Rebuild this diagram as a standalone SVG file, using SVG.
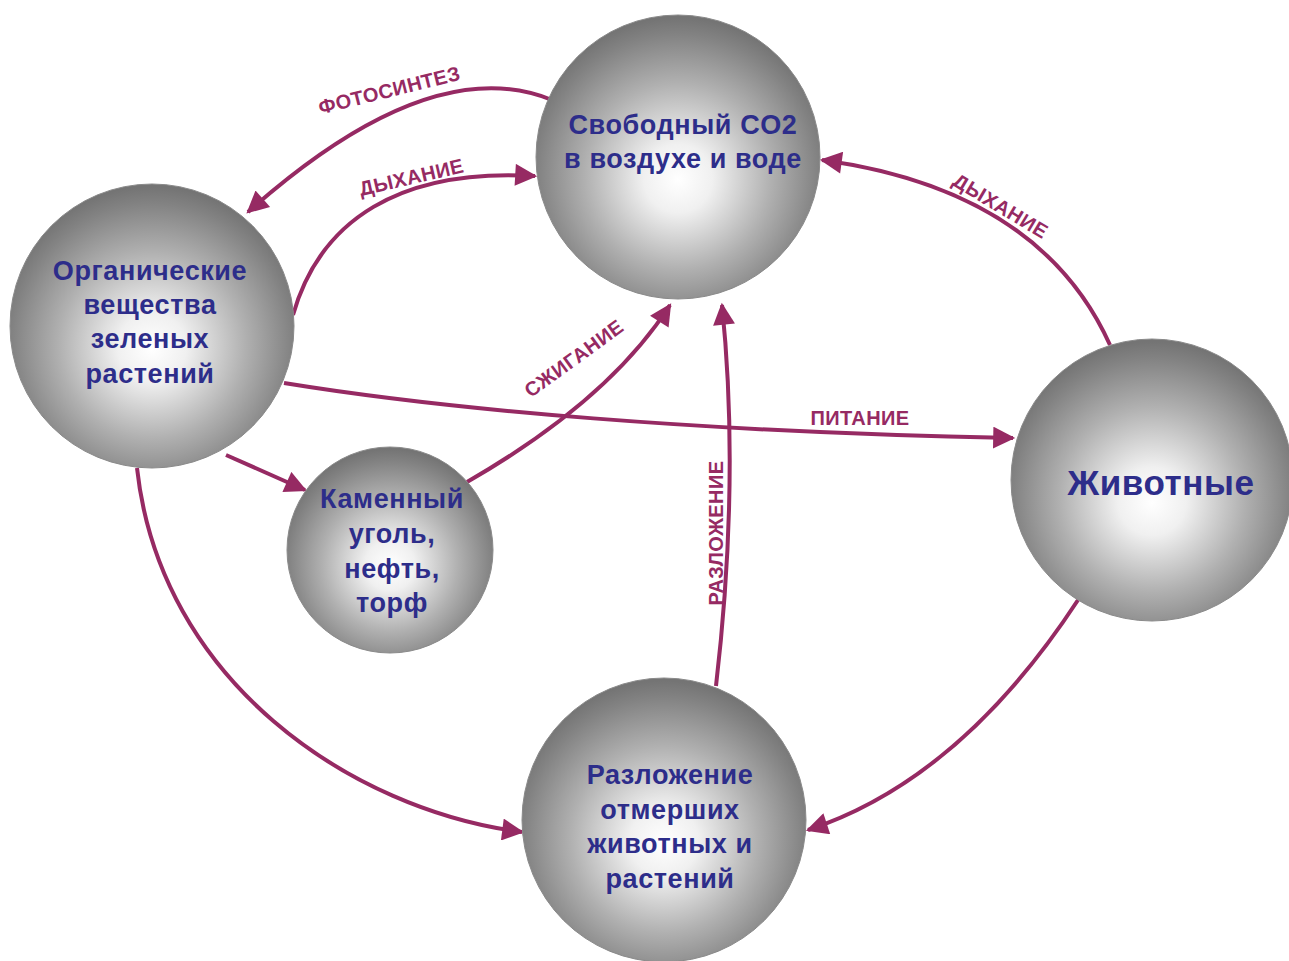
<svg xmlns="http://www.w3.org/2000/svg" width="1289" height="961" viewBox="0 0 1289 961">
  <defs>
    <radialGradient id="sphere" cx="50%" cy="56%" r="55%" fx="50%" fy="58%">
      <stop offset="0" stop-color="#ffffff"/>
      <stop offset="0.22" stop-color="#f0f0f0"/>
      <stop offset="0.6" stop-color="#b0b0b0"/>
      <stop offset="0.9" stop-color="#828282"/>
      <stop offset="1" stop-color="#747474"/>
    </radialGradient>
    <marker id="arrow" viewBox="0 0 10 10" refX="9" refY="5" markerWidth="6" markerHeight="5.5" markerUnits="strokeWidth" orient="auto">
      <path d="M0,0 L10,5 L0,10 z" fill="#962a63"/>
    </marker>
    <style>
      .node { fill: url(#sphere); stroke: #8a8a8a; stroke-width: 1; }
      .ntext { font-family: "Liberation Sans", Arial, sans-serif; font-weight: bold; font-size: 27px; letter-spacing: 0.6px; fill: #2d2d8a; text-anchor: middle; }
      .conn { fill: none; stroke: #962a63; stroke-width: 4; marker-end: url(#arrow); }
      .lbl { font-family: "Liberation Sans", Arial, sans-serif; font-weight: bold; font-size: 20px; letter-spacing: 0.4px; fill: #962a63; text-anchor: middle; }
    </style>
  </defs>

  <rect width="1289" height="961" fill="#ffffff"/>

  <!-- connectors -->
  <g id="connectors">
    <path class="conn" d="M552,100 Q430,50 248,212"/>
    <path class="conn" d="M293,315 C320,220 400,168 535,176"/>
    <path class="conn" d="M1110,345 Q1040,190 822,160"/>
    <path class="conn" d="M467,482 C540,440 622,380 670,305"/>
    <path class="conn" d="M284,383 C450,410 700,432 1013,438"/>
    <path class="conn" d="M226,455 L305,490"/>
    <path class="conn" d="M137,468 C160,680 350,810 522,832"/>
    <path class="conn" d="M1078,600 Q960,780 808,830"/>
    <path class="conn" d="M716,686 Q740,480 722,305"/>

    <text class="lbl" transform="translate(391,97) rotate(-14)">ФОТОСИНТЕЗ</text>
    <text class="lbl" transform="translate(413,184) rotate(-13)">ДЫХАНИЕ</text>
    <text class="lbl" transform="translate(997,212) rotate(31)">ДЫХАНИЕ</text>
    <text class="lbl" transform="translate(578,364) rotate(-36)">СЖИГАНИЕ</text>
    <text class="lbl" x="860" y="425">ПИТАНИЕ</text>
    <text class="lbl" transform="translate(723,533) rotate(-90)">РАЗЛОЖЕНИЕ</text>
  </g>

  <g id="node-co2">
    <circle class="node" cx="678" cy="157" r="142"/>
    <text class="ntext" x="683" y="134">Свободный CO2</text>
    <text class="ntext" x="683" y="168">в воздухе и воде</text>
  </g>

  <g id="node-plants">
    <circle class="node" cx="152" cy="326" r="142"/>
    <text class="ntext" x="150" y="280">Органические</text>
    <text class="ntext" x="150" y="314">вещества</text>
    <text class="ntext" x="150" y="348">зеленых</text>
    <text class="ntext" x="150" y="383">растений</text>
  </g>

  <g id="node-fossil">
    <circle class="node" cx="390" cy="550" r="103"/>
    <text class="ntext" x="392" y="508">Каменный</text>
    <text class="ntext" x="392" y="543">уголь,</text>
    <text class="ntext" x="392" y="578">нефть,</text>
    <text class="ntext" x="392" y="612">торф</text>
  </g>

  <g id="node-animals">
    <circle class="node" cx="1152" cy="480" r="141"/>
    <text class="ntext" x="1161" y="495" style="font-size:35px">Животные</text>
  </g>

  <g id="node-decay">
    <circle class="node" cx="664" cy="820" r="142"/>
    <text class="ntext" x="670" y="784">Разложение</text>
    <text class="ntext" x="670" y="819">отмерших</text>
    <text class="ntext" x="670" y="853">животных и</text>
    <text class="ntext" x="670" y="888">растений</text>
  </g>
</svg>
